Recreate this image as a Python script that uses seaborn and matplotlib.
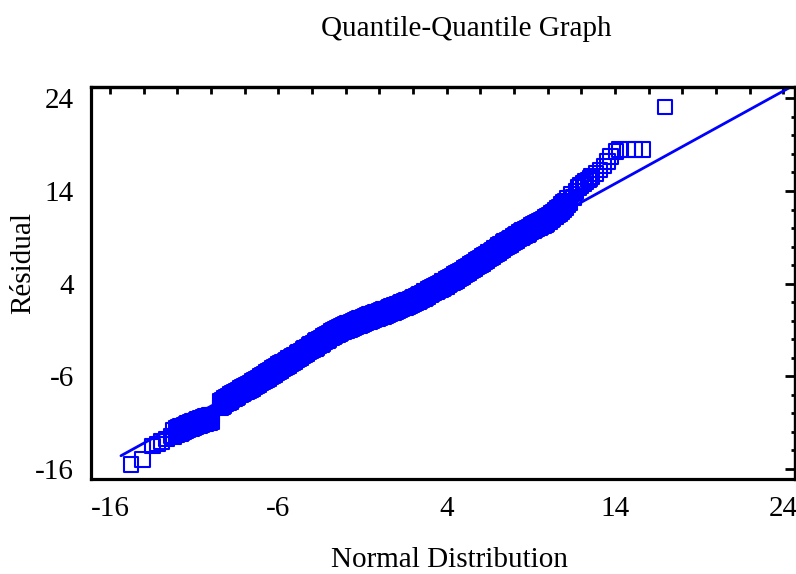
import matplotlib
matplotlib.use("Agg")
import matplotlib.pyplot as plt
import seaborn as sns
import pandas as pd
from matplotlib.ticker import FixedLocator, MultipleLocator

# ---- data ----
# main sequence of points (tails + one edge of the dense band)
normal_quantile = [
    -14.75, -14.05, -13.46, -13.19, -12.93, -12.63, -12.33,
    -12.21, -12.07, -11.96, -11.83, -11.72, -11.61, -11.48, -11.38, -11.25, -11.12,
    -11.02, -10.89, -10.79, -10.66, -10.54, -10.44, -10.31, -10.19, -10.08, -9.96,
    -9.45, -9.33, -9.22, -9.11, -8.97, -8.86, -8.75, -8.61, -8.50, -8.39, -8.26,
    -8.13, -8.03, -7.90, -7.77, -7.67, -7.54, -7.41, -7.31, -7.18, -7.05, -6.95,
    -6.82, -6.69, -6.59, -6.46, -6.33, -6.23, -6.10, -5.97, -5.87, -5.74, -5.61,
    -5.51, -5.38, -5.25, -5.15, -5.02, -4.89, -4.79, -4.66, -4.53, -4.43, -4.30,
    -4.17, -4.07, -3.94, -3.81, -3.71, -3.58, -3.45, -3.35, -3.22, -3.09, -2.99,
    -2.86, -2.73, -2.63, -2.50, -2.37, -2.27, -2.14, -2.01, -1.91, -1.78, -1.65,
    -1.55, -1.42, -1.29, -1.19, -1.06, -0.93, -0.83, -0.70, -0.57, -0.47, -0.34,
    -0.21, -0.11, 0.02, 0.15, 0.25, 0.38, 0.51, 0.61, 0.74, 0.87, 0.97,
    1.10, 1.23, 1.33, 1.46, 1.59, 1.69, 1.82, 1.95, 2.05, 2.18, 2.31,
    2.41, 2.54, 2.67, 2.77, 2.90, 3.03, 3.13, 3.26, 3.39, 3.49, 3.62,
    3.75, 3.85, 3.98, 4.11, 4.21, 4.34, 4.47, 4.57, 4.70, 4.83, 4.93,
    5.06, 5.19, 5.29, 5.42, 5.55, 5.65, 5.78, 5.91, 6.01, 6.14, 6.27,
    6.37, 6.50, 6.63, 6.73, 6.86, 6.99, 7.09, 7.22, 7.35, 7.45, 7.58,
    7.71, 7.81, 7.94, 8.07, 8.17, 8.30, 8.43, 8.53, 8.66, 8.79, 8.89,
    9.02, 9.15, 9.25, 9.38, 9.51, 9.61, 9.74, 9.87, 9.97, 10.10, 10.23,
    10.33, 10.46, 10.59, 10.69, 10.82, 10.95, 11.05, 11.18, 11.31, 11.42, 11.56, 11.69,
    11.83, 11.95, 12.12, 12.27, 12.42, 12.52, 12.62, 12.88, 13.11, 13.35, 13.55,
    13.75, 14.07, 14.26, 14.76, 15.20, 15.65, 16.98,
]
residual = [
    -15.48, -14.94, -13.52, -13.30, -13.05, -12.76, -12.44,
    -11.80, -12.32, -11.52, -12.14, -11.36, -11.97, -11.16, -11.80, -11.00, -11.61,
    -10.82, -11.43, -10.66, -11.28, -10.51, -11.14, -10.37, -11.01, -10.25, -10.90,
    -8.70, -9.26, -8.43, -8.98, -8.12, -8.68, -7.85, -8.39, -7.57, -8.16, -7.33,
    -7.90, -7.10, -7.66, -6.82, -7.42, -6.58, -7.13, -6.32, -6.88, -6.02, -6.61,
    -5.77, -6.32, -5.51, -6.05, -5.19, -5.78, -4.90, -5.46, -4.65, -5.20, -4.36,
    -4.95, -4.10, -4.65, -3.83, -4.39, -3.53, -4.12, -3.27, -3.82, -3.00, -3.55,
    -2.69, -3.28, -2.42, -2.97, -2.16, -2.70, -1.85, -2.43, -1.58, -2.13, -1.31,
    -1.87, -1.03, -1.62, -0.81, -1.39, -0.61, -1.20, -0.40, -1.02, -0.23, -0.83,
    -0.06, -0.66, 0.14, -0.49, 0.31, -0.30, 0.47, -0.14, 0.64, 0.01, 0.80,
    0.18, 0.95, 0.33, 1.11, 0.48, 1.26, 0.65, 1.42, 0.82, 1.62, 0.99,
    1.79, 1.19, 1.96, 1.36, 2.16, 1.53, 2.34, 1.75, 2.54, 1.96, 2.77,
    2.17, 2.99, 2.42, 3.22, 2.65, 3.48, 2.88, 3.71, 3.14, 3.94, 3.37,
    4.20, 3.60, 4.43, 3.87, 4.68, 4.12, 4.96, 4.37, 5.23, 4.68, 5.49,
    4.95, 5.80, 5.21, 6.07, 5.52, 6.33, 5.79, 6.64, 6.06, 6.91, 6.37,
    7.19, 6.65, 7.51, 6.94, 7.80, 7.26, 8.09, 7.55, 8.41, 7.84, 8.69,
    8.13, 8.94, 8.41, 9.25, 8.66, 9.52, 8.95, 9.75, 9.20, 10.02, 9.43,
    10.26, 9.68, 10.48, 9.92, 10.74, 10.14, 10.98, 10.41, 11.23, 10.70, 11.56,
    11.00, 11.91, 11.40, 12.28, 11.81, 12.73, 12.22, 13.19, 12.73, 13.68, 13.30, 13.97,
    14.39, 14.60, 14.82, 15.00, 15.18, 15.35, 15.53, 15.90, 16.26, 16.69, 17.15,
    17.69, 18.30, 18.49, 18.49, 18.49, 18.49, 23.08,
]
# second sequence filling the other edge of the dense band
band_quantile = [
    -12.21, -12.07, -11.96, -11.83, -11.72, -11.61, -11.48, -11.38, -11.25, -11.12,
    -11.02, -10.89, -10.79, -10.66, -10.54, -10.44, -10.31, -10.19, -10.08, -9.96,
    -9.45, -9.33, -9.22, -9.11, -8.97, -8.86, -8.75, -8.61, -8.50, -8.39, -8.26,
    -8.13, -8.03, -7.90, -7.77, -7.67, -7.54, -7.41, -7.31, -7.18, -7.05, -6.95,
    -6.82, -6.69, -6.59, -6.46, -6.33, -6.23, -6.10, -5.97, -5.87, -5.74, -5.61,
    -5.51, -5.38, -5.25, -5.15, -5.02, -4.89, -4.79, -4.66, -4.53, -4.43, -4.30,
    -4.17, -4.07, -3.94, -3.81, -3.71, -3.58, -3.45, -3.35, -3.22, -3.09, -2.99,
    -2.86, -2.73, -2.63, -2.50, -2.37, -2.27, -2.14, -2.01, -1.91, -1.78, -1.65,
    -1.55, -1.42, -1.29, -1.19, -1.06, -0.93, -0.83, -0.70, -0.57, -0.47, -0.34,
    -0.21, -0.11, 0.02, 0.15, 0.25, 0.38, 0.51, 0.61, 0.74, 0.87, 0.97,
    1.10, 1.23, 1.33, 1.46, 1.59, 1.69, 1.82, 1.95, 2.05, 2.18, 2.31,
    2.41, 2.54, 2.67, 2.77, 2.90, 3.03, 3.13, 3.26, 3.39, 3.49, 3.62,
    3.75, 3.85, 3.98, 4.11, 4.21, 4.34, 4.47, 4.57, 4.70, 4.83, 4.93,
    5.06, 5.19, 5.29, 5.42, 5.55, 5.65, 5.78, 5.91, 6.01, 6.14, 6.27,
    6.37, 6.50, 6.63, 6.73, 6.86, 6.99, 7.09, 7.22, 7.35, 7.45, 7.58,
    7.71, 7.81, 7.94, 8.07, 8.17, 8.30, 8.43, 8.53, 8.66, 8.79, 8.89,
    9.02, 9.15, 9.25, 9.38, 9.51, 9.61, 9.74, 9.87, 9.97, 10.10, 10.23,
    10.33, 10.46, 10.59, 10.69, 10.82, 10.95, 11.05, 11.18,
]
band_residual = [
    -12.50, -11.62, -12.22, -11.44, -12.06, -11.27, -11.86, -11.10, -11.70, -10.91,
    -11.52, -10.73, -11.36, -10.58, -11.21, -10.44, -11.07, -10.31, -10.95, -10.20,
    -9.40, -8.56, -9.13, -8.28, -8.82, -7.98, -8.55, -7.69, -8.27, -7.46, -8.03,
    -7.20, -7.80, -6.96, -7.52, -6.72, -7.28, -6.43, -7.02, -6.18, -6.72, -5.91,
    -6.47, -5.62, -6.21, -5.35, -5.89, -5.08, -5.60, -4.76, -5.35, -4.50, -5.06,
    -4.25, -4.80, -3.95, -4.53, -3.69, -4.23, -3.42, -3.97, -3.12, -3.70, -2.85,
    -3.39, -2.58, -3.12, -2.27, -2.86, -2.00, -2.55, -1.73, -2.28, -1.43, -2.01,
    -1.17, -1.73, -0.92, -1.51, -0.69, -1.31, -0.50, -1.10, -0.32, -0.93, -0.13,
    -0.76, 0.04, -0.56, 0.21, -0.39, 0.40, -0.23, 0.56, -0.06, 0.71, 0.10,
    0.88, 0.25, 1.03, 0.41, 1.18, 0.56, 1.35, 0.72, 1.52, 0.92, 1.69,
    1.09, 1.89, 1.26, 2.06, 1.46, 2.23, 1.64, 2.45, 1.84, 2.66, 2.07,
    2.87, 2.29, 3.12, 2.52, 3.35, 2.78, 3.58, 3.01, 3.84, 3.24, 4.07,
    3.50, 4.30, 3.73, 4.57, 3.98, 4.82, 4.26, 5.07, 4.53, 5.38, 4.79,
    5.65, 5.10, 5.91, 5.37, 6.22, 5.63, 6.49, 5.94, 6.76, 6.21, 7.07,
    6.49, 7.35, 6.81, 7.64, 7.10, 7.96, 7.39, 8.25, 7.71, 8.54, 7.99,
    8.83, 8.24, 9.11, 8.55, 9.36, 8.82, 9.65, 9.05, 9.90, 9.32, 10.13,
    9.56, 10.38, 9.78, 10.62, 10.04, 10.84, 10.28, 11.11, 10.53, 11.40, 10.86,
    11.70, 11.21, 12.10, 11.58, 12.51, 12.03, 12.92, 12.49,
]
fit_x = [-15.35, 24.9]
fit_y = [-14.57, 25.68]

x_ticks = [-16, -6, 4, 14, 24]
x_tick_labels = ["-16", "-6", "4", "14", "24"]
y_ticks = [-16, -6, 4, 14, 24]
y_tick_labels = ["-16", "-6", "4", "14", "24"]

title_text = "Quantile-Quantile Graph"
x_label = "Normal Distribution"
y_label = "Résidual"

# ---- styling ----
sns.set_style("white")
plt.rcParams["font.family"] = ["Liberation Serif", "DejaVu Serif"]
plt.rcParams["text.color"] = "black"
plt.rcParams["xtick.color"] = "black"
plt.rcParams["ytick.color"] = "black"
blue = "#0000FF"
fs = 21

fig = plt.figure(figsize=(7.96, 5.74), dpi=100)
ax = fig.add_axes([0.1139, 0.1655, 0.8848, 0.6824])

df = pd.DataFrame({"q": normal_quantile + band_quantile,
                   "r": residual + band_residual})
sns.scatterplot(data=df, x="q", y="r", marker="s", s=112, facecolor="none",
                edgecolor=blue, linewidth=1.5, ax=ax, zorder=3)
fit = pd.DataFrame({"x": fit_x, "y": fit_y})
sns.lineplot(data=fit, x="x", y="y", color=blue, linewidth=2.0, sort=False,
             ax=ax, zorder=2)

ax.set_xlim(-17.15, 24.7)
ax.set_ylim(-17.08, 25.19)
ax.set_xlabel("")
ax.set_ylabel("")

ax.xaxis.set_major_locator(FixedLocator(x_ticks))
ax.yaxis.set_major_locator(FixedLocator(y_ticks))
ax.set_xticklabels(x_tick_labels)
ax.set_yticklabels(y_tick_labels)
ax.xaxis.set_minor_locator(MultipleLocator(2))
ax.yaxis.set_minor_locator(MultipleLocator(2))

for sp in ax.spines.values():
    sp.set_visible(True)
    sp.set_linewidth(2.3)
    sp.set_color("black")

ax.tick_params(axis="x", which="both", direction="in", length=6.5, width=2,
               color="black", labelcolor="black", labelsize=fs, pad=12, top=False)
ax.tick_params(axis="y", which="major", direction="in", length=11, width=2,
               color="black", labelcolor="black", labelsize=fs, pad=12, right=False)
ax.tick_params(axis="y", which="minor", direction="in", length=5.8, width=2,
               color="black", right=False)

secx = ax.secondary_xaxis("top")
secx.xaxis.set_major_locator(FixedLocator(x_ticks))
secx.xaxis.set_minor_locator(MultipleLocator(2))
secx.tick_params(axis="x", which="both", direction="in", length=5, width=2,
                 color="black", labeltop=False, labelbottom=False)
secx.spines["top"].set_linewidth(2.3)
secx.spines["top"].set_color("black")

secy = ax.secondary_yaxis("right")
secy.yaxis.set_major_locator(FixedLocator(y_ticks))
secy.yaxis.set_minor_locator(MultipleLocator(2))
secy.tick_params(axis="y", which="major", direction="in", length=7.5, width=2,
                 color="black", labelright=False, labelleft=False)
secy.tick_params(axis="y", which="minor", direction="in", length=3, width=2,
                 color="black")
secy.spines["right"].set_linewidth(2.3)
secy.spines["right"].set_color("black")

fig.text(466 / 796, 1 - 29 / 574, title_text, ha="center", va="center",
         fontsize=fs, color="black")
fig.text(450 / 796, 1 - 560 / 574, x_label, ha="center", va="center",
         fontsize=fs, color="black")
fig.text(23 / 796, 1 - 262.7 / 574, y_label, ha="center", va="center",
         rotation=90, fontsize=fs, color="black")

fig.savefig("out.png", dpi=100)
